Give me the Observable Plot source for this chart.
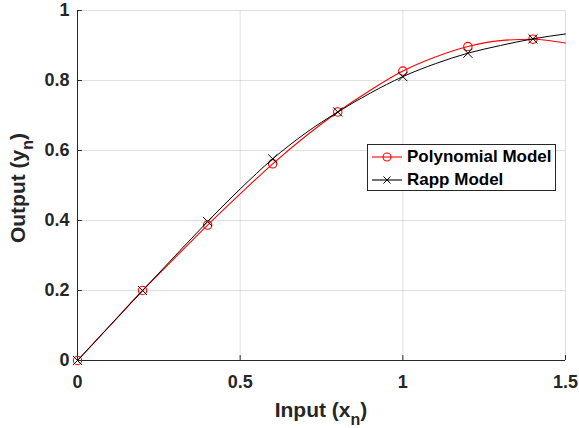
<!DOCTYPE html>
<html>
<head>
<meta charset="utf-8">
<script src="https://cdn.jsdelivr.net/npm/d3@7"></script>
<script src="https://cdn.jsdelivr.net/npm/@observablehq/plot@0.6"></script>
<style>
  body { margin: 0; background: #fff; }
  #wrap { position: relative; width: 579px; height: 428px; font-family: "Liberation Sans", Arial, sans-serif; }
  #legend { position: absolute; left: 367px; top: 144px; width: 189px; height: 47px; border: 1px solid #262626; background: #fff; box-sizing: border-box; }
  .row { position: absolute; left: 4px; height: 20px; display: flex; align-items: center; font-weight: bold; font-size: 17px; color: #000; }
  .row svg { margin-right: 5px; }
</style>
</head>
<body>
<div id="wrap"><div id="legend"></div></div>
<script>
const xTicks = [0, 0.5, 1, 1.5];
const yTicks = [0, 0.2, 0.4, 0.6, 0.8, 1];

const lineX = [0, 0.1, 0.2, 0.3, 0.4, 0.5, 0.6, 0.7, 0.8, 0.9, 1.0, 1.1, 1.2, 1.3, 1.4, 1.5];
const polyLine = [0, 0.1, 0.2, 0.294, 0.387, 0.476, 0.562, 0.64, 0.71, 0.772, 0.827, 0.867, 0.897, 0.914, 0.918, 0.907];
const rappLine = [0, 0.1, 0.2, 0.299, 0.397, 0.49, 0.576, 0.649, 0.71, 0.764, 0.811, 0.848, 0.878, 0.9, 0.919, 0.933];

const markerX = [0, 0.2, 0.4, 0.6, 0.8, 1.0, 1.2, 1.4];
const polyMarkers = [0, 0.2, 0.387, 0.562, 0.71, 0.827, 0.897, 0.918];
const rappMarkers = [0, 0.2, 0.397, 0.576, 0.71, 0.811, 0.878, 0.919];

const seriesNames = ["Polynomial Model", "Rapp Model"];
const seriesColors = ["#ff0000", "#000000"];

const polyL = lineX.map((x, i) => ({x, y: polyLine[i]}));
const rappL = lineX.map((x, i) => ({x, y: rappLine[i]}));
const polyM = markerX.map((x, i) => ({x, y: polyMarkers[i]}));
const rappM = markerX.map((x, i) => ({x, y: rappMarkers[i]}));

const axisColor = "#262626";

const chart = Plot.plot({
  width: 579,
  height: 428,
  marginLeft: 77,
  marginRight: 14,
  marginTop: 10,
  marginBottom: 68,
  style: { fontFamily: "Liberation Sans, Arial, sans-serif", background: "#fff", overflow: "visible" },
  x: { domain: [0, 1.5] },
  y: { domain: [0, 1] },
  marks: [
    Plot.gridX(xTicks, { stroke: "#000", strokeOpacity: 0.12, strokeWidth: 1 }),
    Plot.gridY(yTicks, { stroke: "#000", strokeOpacity: 0.12, strokeWidth: 1 }),
    Plot.axisX({ ticks: xTicks, tickSize: 0, tickPadding: 15, tickFormat: d => String(d), fontSize: 18, fontWeight: "bold", color: axisColor, label: null }),
    Plot.axisY({ ticks: yTicks, tickSize: 0, tickPadding: 8, tickFormat: d => String(d), fontSize: 18, fontWeight: "bold", color: axisColor, label: null }),
    Plot.ruleX(xTicks, { y1: 0, y2: 0.014, stroke: axisColor, strokeWidth: 1 }),
    Plot.ruleY(yTicks, { x1: 0, x2: 0.015, stroke: axisColor, strokeWidth: 1 }),
    Plot.ruleY([0], { stroke: axisColor, strokeWidth: 1 }),
    Plot.ruleX([0], { stroke: axisColor, strokeWidth: 1 }),
    Plot.line(polyL, { x: "x", y: "y", stroke: seriesColors[0], strokeWidth: 1.1, curve: "monotone-x" }),
    Plot.dot(polyM, { x: "x", y: "y", r: 4.2, stroke: seriesColors[0], fill: "none", strokeWidth: 1.1, symbol: "circle" }),
    Plot.line(rappL, { x: "x", y: "y", stroke: seriesColors[1], strokeWidth: 1, curve: "monotone-x" }),
    Plot.dot(rappM, { x: "x", y: "y", r: 4.2, stroke: seriesColors[1], strokeWidth: 1, symbol: "times" })
  ]
});

const svg = d3.select(chart);
// x axis label with subscript
const xl = svg.append("text")
  .attr("x", 321).attr("y", 417)
  .attr("text-anchor", "middle")
  .attr("font-size", 21).attr("font-weight", "bold")
  .attr("fill", axisColor)
  .attr("font-family", "Liberation Sans, Arial, sans-serif");
xl.append("tspan").text("Input (x");
xl.append("tspan").attr("font-size", 16).attr("dy", 8).text("n");
xl.append("tspan").attr("dy", -8).text(")");
// y axis label with subscript
const yl = svg.append("text")
  .attr("transform", "translate(25,188) rotate(-90)")
  .attr("text-anchor", "middle")
  .attr("font-size", 21).attr("font-weight", "bold")
  .attr("fill", axisColor)
  .attr("font-family", "Liberation Sans, Arial, sans-serif");
yl.append("tspan").text("Output (y");
yl.append("tspan").attr("font-size", 16).attr("dy", 8).text("n");
yl.append("tspan").attr("dy", -8).text(")");

document.getElementById("wrap").prepend(chart);
chart.style.position = "absolute";
chart.style.left = "0";
chart.style.top = "0";

// legend
const legend = document.getElementById("legend");
seriesNames.forEach((name, i) => {
  const row = document.createElement("div");
  row.className = "row";
  row.style.top = (i === 0 ? 2 : 25) + "px";
  const s = d3.create("svg").attr("width", 30).attr("height", 12);
  s.append("line").attr("x1", 0).attr("x2", 30).attr("y1", 6).attr("y2", 6).attr("stroke", seriesColors[i]).attr("stroke-width", 1.1);
  if (i === 0) {
    s.append("circle").attr("cx", 15).attr("cy", 6).attr("r", 4).attr("fill", "none").attr("stroke", seriesColors[i]).attr("stroke-width", 1.1);
  } else {
    s.append("path").attr("d", "M11.5,2.5L18.5,9.5M11.5,9.5L18.5,2.5").attr("stroke", seriesColors[i]).attr("stroke-width", 1);
  }
  row.appendChild(s.node());
  const t = document.createElement("span");
  t.textContent = name;
  row.appendChild(t);
  legend.appendChild(row);
});
document.getElementById("wrap").appendChild(legend);
</script>
</body>
</html>
